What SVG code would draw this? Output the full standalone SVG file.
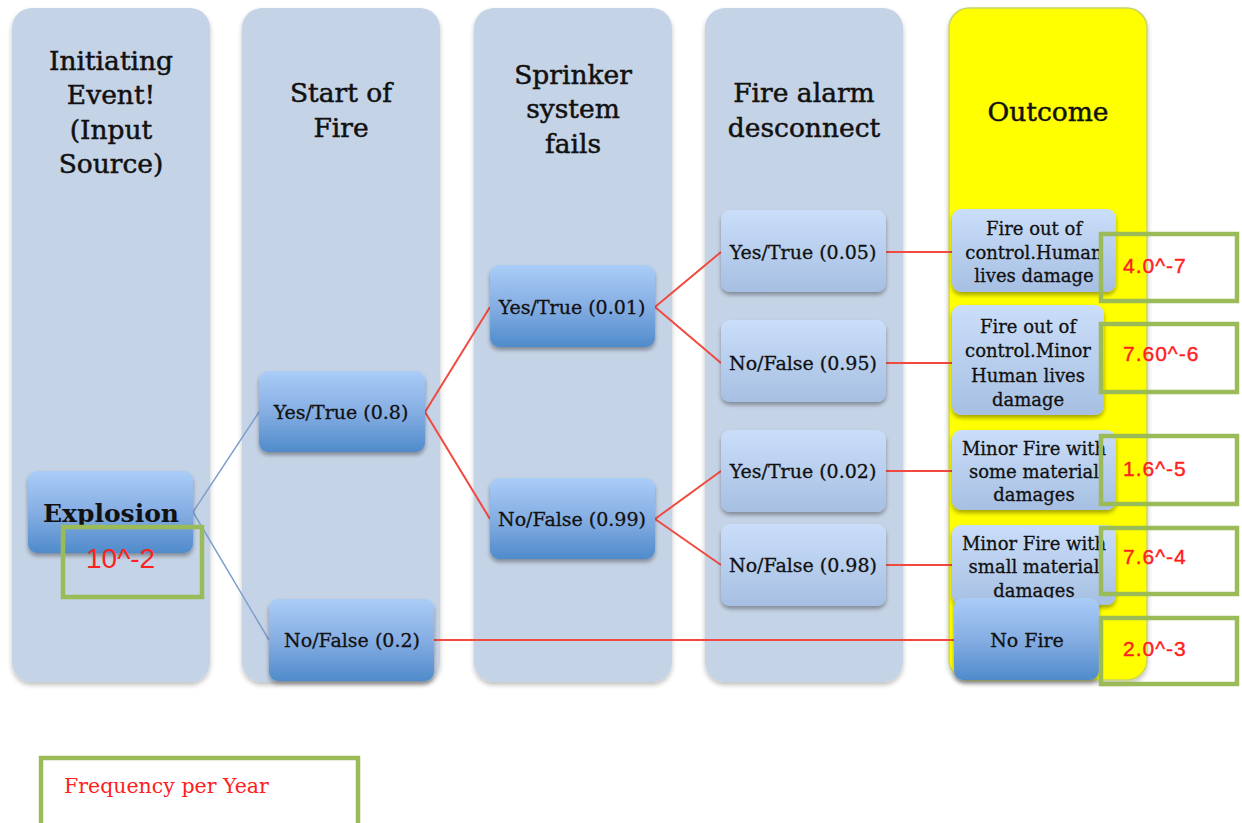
<svg xmlns="http://www.w3.org/2000/svg" width="1242" height="823" viewBox="0 0 1242 823">
<defs>
<linearGradient id="gDark" x1="0" y1="0" x2="0" y2="1">
<stop offset="0" stop-color="#AACDF8"/><stop offset="0.5" stop-color="#86AEE3"/><stop offset="1" stop-color="#4F8BCB"/>
</linearGradient>
<linearGradient id="gLight" x1="0" y1="0" x2="0" y2="1">
<stop offset="0" stop-color="#CADEF9"/><stop offset="1" stop-color="#A6BFE2"/>
</linearGradient>
<filter id="sh" x="-10%" y="-10%" width="120%" height="130%">
<feGaussianBlur in="SourceAlpha" stdDeviation="2"/>
<feOffset dx="0" dy="3" result="b"/>
<feComponentTransfer><feFuncA type="linear" slope="0.35"/></feComponentTransfer>
<feMerge><feMergeNode/><feMergeNode in="SourceGraphic"/></feMerge>
</filter>
<filter id="lsh" x="-10%" y="-5%" width="120%" height="110%">
<feGaussianBlur in="SourceAlpha" stdDeviation="2.5"/>
<feOffset dx="0" dy="3" result="b"/>
<feComponentTransfer><feFuncA type="linear" slope="0.25"/></feComponentTransfer>
<feMerge><feMergeNode/><feMergeNode in="SourceGraphic"/></feMerge>
</filter>
</defs>
<style>
.lane{fill:#C5D3E6;filter:url(#lsh)}
.title{font-family:"DejaVu Serif",serif;font-size:26.5px;fill:#111;stroke:#111;stroke-width:0.5;text-anchor:middle}
.nd{fill:url(#gDark);filter:url(#sh)}
.nl{fill:url(#gLight);filter:url(#sh)}
.t{font-family:"DejaVu Serif",serif;font-size:19px;fill:#111;stroke:#111;stroke-width:0.3;text-anchor:middle}
.to{font-family:"DejaVu Serif",serif;font-size:18px;fill:#111;stroke:#111;stroke-width:0.3;text-anchor:middle}
.gb{fill:none;stroke:#9BBB59;stroke-width:4.5}
.val{font-family:"Liberation Sans",sans-serif;font-size:21px;fill:#FF2020;stroke:#FF2020;stroke-width:0.4;letter-spacing:1px}
.red{fill:none;stroke:#F04A40;stroke-width:2}
.blue{fill:none;stroke:#7E9FCC;stroke-width:1.5}
</style>
<rect width="1242" height="823" fill="#fff"/>
<g id="lanes">
<rect class="lane" x="12" y="8" width="198" height="674" rx="20"/>
<rect class="lane" x="242" y="8" width="198" height="674" rx="20"/>
<rect class="lane" x="474" y="8" width="198" height="674" rx="20"/>
<rect class="lane" x="705" y="8" width="198" height="674" rx="20"/>
<rect x="949" y="8" width="198" height="672" rx="20" fill="#FFFF00" stroke="#C9D36A" stroke-width="1.5" filter="url(#lsh)"/>
<text class="title"><tspan x="111" y="70">Initiating</tspan><tspan x="111" y="104">Event!</tspan><tspan x="111" y="139">(Input</tspan><tspan x="111" y="173">Source)</tspan></text>
<text class="title"><tspan x="341" y="102">Start of</tspan><tspan x="341" y="137">Fire</tspan></text>
<text class="title"><tspan x="573" y="84">Sprinker</tspan><tspan x="573" y="118">system</tspan><tspan x="573" y="153">fails</tspan></text>
<text class="title"><tspan x="804" y="102">Fire alarm</tspan><tspan x="804" y="137">desconnect</tspan></text>
<text class="title" x="1048" y="121">Outcome</text>
</g>
<g id="connectors">
<path class="blue" d="M193 512 L259 412 M193 512 L269 640"/>
<path class="red" d="M425 412 L490 307 M425 412 L490 519"/>
<path class="red" d="M655 307 L721 252 M655 307 L721 363 M655 519 L721 471 M655 519 L721 565"/>
<path class="red" d="M886 252 H952 M886 363 H952 M886 471 H952 M886 565 H952 M434 640 H955"/>
</g>
<g id="explosion">
<rect class="nd" x="28" y="471" width="165" height="82" rx="9"/>
<text x="111" y="522" font-family="DejaVu Serif, serif" font-weight="bold" font-size="25" fill="#111" text-anchor="middle">Explosion</text>
<rect class="gb" x="63" y="527" width="139" height="70"/>
<text x="86" y="568" font-family="Liberation Sans, sans-serif" font-size="28" fill="#FF2020">10^-2</text>
</g>
<g id="sf-yes"><rect class="nd" x="259" y="371" width="166" height="81" rx="9"/><text class="t" x="341" y="419">Yes/True (0.8)</text></g>
<g id="sf-no"><rect class="nd" x="269" y="599" width="165" height="82" rx="9"/><text class="t" x="352" y="647">No/False (0.2)</text></g>
<g id="sp-yes"><rect class="nd" x="490" y="265" width="165" height="82" rx="9"/><text class="t" x="572" y="314">Yes/True (0.01)</text></g>
<g id="sp-no"><rect class="nd" x="490" y="478" width="165" height="81" rx="9"/><text class="t" x="572" y="526">No/False (0.99)</text></g>
<g id="fa-yes1"><rect class="nl" x="721" y="210" width="165" height="82" rx="9"/><text class="t" x="803" y="259">Yes/True (0.05)</text></g>
<g id="fa-no1"><rect class="nl" x="721" y="320" width="165" height="82" rx="9"/><text class="t" x="803" y="370">No/False (0.95)</text></g>
<g id="fa-yes2"><rect class="nl" x="721" y="430" width="165" height="82" rx="9"/><text class="t" x="803" y="478">Yes/True (0.02)</text></g>
<g id="fa-no2"><rect class="nl" x="721" y="524" width="165" height="82" rx="9"/><text class="t" x="803" y="572">No/False (0.98)</text></g>
<g id="out1"><rect class="nl" x="952" y="209" width="164" height="83" rx="9"/><text class="to"><tspan x="1034" y="235">Fire out of</tspan><tspan x="1034" y="259">control.Human</tspan><tspan x="1034" y="282">lives damage</tspan></text></g>
<g id="out2"><rect class="nl" x="952" y="305" width="152" height="110" rx="9"/><text class="to"><tspan x="1028" y="333">Fire out of</tspan><tspan x="1028" y="357">control.Minor</tspan><tspan x="1028" y="382">Human lives</tspan><tspan x="1028" y="406">damage</tspan></text></g>
<g id="out3"><rect class="nl" x="952" y="430" width="164" height="80" rx="9"/><text class="to"><tspan x="1034" y="455">Minor Fire with</tspan><tspan x="1034" y="478">some material</tspan><tspan x="1034" y="501">damages</tspan></text></g>
<g id="out4"><rect class="nl" x="952" y="525" width="164" height="80" rx="9"/><text class="to"><tspan x="1034" y="550">Minor Fire with</tspan><tspan x="1034" y="573">small material</tspan><tspan x="1034" y="597">damages</tspan></text></g>
<g id="out5"><rect class="nd" x="954" y="598" width="145" height="82" rx="9"/><text class="t" x="1027" y="647">No Fire</text></g>
<g id="freq">
<rect class="gb" x="1101" y="234" width="136" height="67"/><text class="val" x="1123" y="273">4.0^-7</text>
<rect class="gb" x="1101" y="324" width="136" height="68"/><text class="val" x="1123" y="361">7.60^-6</text>
<rect class="gb" x="1101" y="436" width="136" height="68"/><text class="val" x="1123" y="476">1.6^-5</text>
<rect class="gb" x="1101" y="528" width="136" height="66"/><text class="val" x="1123" y="564">7.6^-4</text>
<rect class="gb" x="1101" y="618" width="136" height="66"/><text class="val" x="1123" y="656">2.0^-3</text>
</g>
<g id="legend">
<rect class="gb" x="41" y="758" width="317" height="80"/>
<text x="64" y="793" font-family="DejaVu Serif, serif" font-size="20.5" fill="#FF2020">Frequency per Year</text>
</g>
</svg>
